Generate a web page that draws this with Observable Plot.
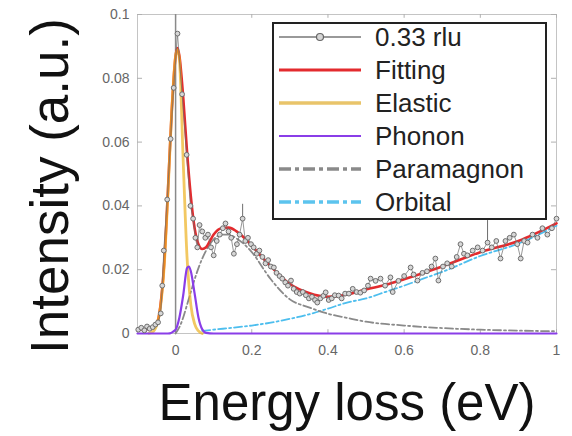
<!DOCTYPE html>
<html><head><meta charset="utf-8">
<script src="https://cdn.jsdelivr.net/npm/d3@7"></script>
<script src="https://cdn.jsdelivr.net/npm/@observablehq/plot@0.6"></script>
<style>
body{margin:0;background:#fff;font-family:"Liberation Sans",Arial,sans-serif}
#wrap{position:relative;width:572px;height:436px;overflow:hidden}
#legend{position:absolute;left:272px;top:22px;width:271px;height:194px;border:2px solid #222;background:#fff}
.row{position:absolute;left:0;height:33px;display:flex;align-items:center;white-space:nowrap}
.row svg{margin-left:5px}
.row span{margin-left:14px;font-size:26px;color:#222;line-height:33px}
</style></head>
<body><div id="wrap"><div id="legend"></div></div>
<script>
// Measured data (0.33 rlu)
const dataX = [-0.098,-0.09,-0.082,-0.075,-0.068,-0.06,-0.053,-0.046,-0.039,-0.035,-0.031,-0.022,-0.013,-0.005,0.005,0.017,0.029,0.039,0.046,0.052,0.057,0.063,0.07,0.078,0.085,0.093,0.1,0.108,0.116,0.124,0.131,0.139,0.146,0.153,0.161,0.168,0.176,0.183,0.19,0.198,0.205,0.213,0.22,0.228,0.236,0.243,0.25,0.258,0.265,0.273,0.28,0.288,0.295,0.303,0.31,0.318,0.326,0.334,0.342,0.35,0.358,0.366,0.372,0.38,0.388,0.394,0.402,0.41,0.418,0.428,0.436,0.445,0.455,0.465,0.475,0.485,0.495,0.505,0.512,0.525,0.538,0.55,0.564,0.57,0.585,0.6,0.617,0.625,0.635,0.648,0.66,0.672,0.682,0.69,0.702,0.713,0.725,0.738,0.748,0.757,0.766,0.78,0.793,0.806,0.819,0.83,0.842,0.853,0.866,0.877,0.888,0.897,0.906,0.915,0.924,0.937,0.95,0.963,0.976,0.988,1.0];
const dataY = [0.0012,0.0018,0.0010,0.0022,0.0015,0.0020,0.0028,0.0035,0.0063,0.015,0.026,0.042,0.061,0.077,0.094,0.075,0.056,0.040,0.036,0.030,0.027,0.034,0.032,0.030,0.031,0.027,0.0245,0.029,0.031,0.033,0.0345,0.032,0.030,0.025,0.028,0.031,0.036,0.029,0.030,0.028,0.027,0.025,0.026,0.024,0.022,0.023,0.021,0.0207,0.019,0.018,0.0172,0.016,0.015,0.0166,0.014,0.013,0.0125,0.013,0.012,0.011,0.0115,0.0105,0.0097,0.011,0.0118,0.0129,0.0105,0.011,0.012,0.0119,0.011,0.0125,0.0125,0.014,0.013,0.0128,0.0135,0.015,0.0172,0.0165,0.0172,0.015,0.0176,0.013,0.0165,0.018,0.0207,0.0185,0.0166,0.019,0.0195,0.021,0.0235,0.0166,0.021,0.022,0.021,0.024,0.028,0.025,0.0245,0.026,0.027,0.026,0.0285,0.027,0.029,0.0235,0.029,0.030,0.031,0.028,0.0235,0.029,0.0285,0.031,0.030,0.033,0.031,0.033,0.036];
const errX = [0.176, 0.819];
const errLo = [0.036, 0.0285];
const errHi = [0.0405, 0.0354];

// Fitting
const fitX = [-0.1,-0.07,-0.05,-0.04,-0.03,-0.02,-0.01,0,0.005,0.01,0.02,0.03,0.04,0.05,0.06,0.07,0.08,0.09,0.1,0.12,0.14,0.16,0.18,0.2,0.25,0.3,0.35,0.4,0.45,0.5,0.55,0.6,0.7,0.8,0.9,1.0];
const fitY = [0.0012,0.0014,0.003,0.0085,0.022,0.045,0.07,0.087,0.0895,0.087,0.074,0.057,0.043,0.033,0.028,0.0265,0.027,0.029,0.031,0.033,0.0332,0.032,0.030,0.0275,0.021,0.0155,0.0127,0.0115,0.0122,0.0138,0.0152,0.017,0.021,0.0255,0.029,0.0345];

// Elastic
const elasticX = [-0.07,-0.06,-0.05,-0.04,-0.03,-0.02,-0.01,0,0.005,0.01,0.02,0.03,0.04,0.05,0.06,0.07];
const elasticY = [0.0001,0.0005,0.0025,0.008,0.021,0.044,0.07,0.087,0.089,0.086,0.054,0.024,0.009,0.003,0.0008,0];

// Phonon
const phononX = [-0.1,-0.02,0,0.01,0.02,0.03,0.035,0.04,0.05,0.06,0.07,0.08,0.1,0.5,1.0];
const phononY = [0,0,0.0012,0.005,0.012,0.0205,0.021,0.0195,0.0125,0.005,0.0013,0.0002,0,0,0];

// Paramagnon
const paraX = [0,0.01,0.02,0.03,0.04,0.05,0.06,0.07,0.08,0.1,0.12,0.14,0.16,0.18,0.2,0.25,0.3,0.35,0.4,0.45,0.5,0.6,0.7,0.8,0.9,1.0];
const paraY = [0,0.002,0.005,0.009,0.013,0.017,0.0205,0.0235,0.026,0.0295,0.031,0.031,0.0298,0.028,0.0255,0.017,0.0107,0.0082,0.0062,0.0049,0.0037,0.0025,0.0017,0.0012,0.0009,0.0007];

// Orbital
const orbX = [0.07,0.1,0.15,0.2,0.25,0.3,0.35,0.4,0.45,0.5,0.55,0.6,0.65,0.7,0.8,0.9,1.0];
const orbY = [0.0008,0.0012,0.0018,0.0025,0.0034,0.0046,0.006,0.0078,0.0097,0.011,0.013,0.015,0.0172,0.0193,0.0243,0.0282,0.0338];

const xTicks = [0,0.2,0.4,0.6,0.8,1];
const xTickLabels = ["0","0.2","0.4","0.6","0.8","1"];
const yTicks = [0,0.02,0.04,0.06,0.08,0.1];
const yTickLabels = ["0","0.02","0.04","0.06","0.08","0.1"];

const legendLabels = ["0.33 rlu","Fitting","Elastic","Phonon","Paramagnon","Orbital"];
const xLabel = "Energy loss (eV)";
const yLabel = "Intensity (a.u.)";

const C = {data:"#6e6e6e", fit:"#e32b2e", elastic:"#EDB120", phonon:"#8a3ee8", para:"#8a8a8a", orb:"#4DBEEE"};

const zip = (xs, ys) => xs.map((x, i) => ({x, y: ys[i]}));
const data = zip(dataX, dataY);
const errs = errX.map((x, i) => ({x, lo: errLo[i], hi: errHi[i]}));
const xDom = [-0.1, 1], yDom = [0, 0.1];
const tx = (xDom[1] - xDom[0]) * 0.012, ty = (yDom[1] - yDom[0]) * 0.012;

const chart = Plot.plot({
  width: 572, height: 436,
  marginLeft: 137, marginRight: 16, marginTop: 14, marginBottom: 103,
  x: {domain: xDom},
  y: {domain: yDom},
  style: {fontFamily: '"Liberation Sans", Arial, sans-serif', fontSize: "14px", background: "#fff", overflow: "visible"},
  marks: [
    Plot.frame({stroke: "#c4c4c4"}),
    // inward MATLAB-style ticks on all four sides
    Plot.ruleX(xTicks, {y1: yDom[0], y2: yDom[0] + ty, stroke: "#b0b0b0"}),
    Plot.ruleX(xTicks, {y1: yDom[1] - ty, y2: yDom[1], stroke: "#b0b0b0"}),
    Plot.ruleY(yTicks, {x1: xDom[0], x2: xDom[0] + tx, stroke: "#b0b0b0"}),
    Plot.ruleY(yTicks, {x1: xDom[1] - tx, x2: xDom[1], stroke: "#b0b0b0"}),
    Plot.axisX({ticks: xTicks, tickFormat: d => xTickLabels[xTicks.indexOf(d)], tickSize: 0, tickPadding: 12, fontSize: 14, color: "#666", label: null}),
    Plot.axisY({ticks: yTicks, tickFormat: d => yTickLabels[yTicks.indexOf(d)], tickSize: 0, tickPadding: 8, fontSize: 14, color: "#666", label: null}),
    Plot.ruleX([0], {stroke: "#8a8a8a", strokeWidth: 1.5}),
    Plot.line(zip(orbX, orbY), {x: "x", y: "y", stroke: C.orb, strokeWidth: 1.8, strokeDasharray: "8,3,2,3", curve: "monotone-x"}),
    Plot.line(zip(paraX, paraY), {x: "x", y: "y", stroke: C.para, strokeWidth: 1.8, strokeDasharray: "8,3,2,3", curve: "monotone-x"}),
    Plot.line(zip(fitX, fitY), {x: "x", y: "y", stroke: C.fit, strokeWidth: 2.6, curve: "monotone-x"}),
    Plot.line(zip(elasticX, elasticY), {x: "x", y: "y", stroke: C.elastic, strokeWidth: 2.8, strokeOpacity: 0.7, curve: "monotone-x"}),
    Plot.line(zip(phononX, phononY), {x: "x", y: "y", stroke: C.phonon, strokeWidth: 2.2, curve: "monotone-x"}),
    Plot.line(data, {x: "x", y: "y", stroke: C.data, strokeWidth: 0.9, strokeOpacity: 0.8}),
    Plot.ruleX(errs, {x: "x", y1: "lo", y2: "hi", stroke: C.data, strokeWidth: 1}),
    Plot.dot(data, {x: "x", y: "y", r: 2.4, stroke: C.data, strokeWidth: 1, fill: "#d6d6d6"}),
    Plot.text([yLabel], {frameAnchor: "left", textAnchor: "middle", rotate: -90, dx: -86, dy: 12, fontSize: 53, fill: "#111", lineAnchor: "middle"}),
    Plot.text([xLabel], {frameAnchor: "bottom", textAnchor: "middle", dy: 70, fontSize: 51, fill: "#111", lineAnchor: "middle"})
  ]
});
const wrap = document.getElementById("wrap");
wrap.insertBefore(chart, wrap.firstChild);

// Legend
const legendStyles = [
  {stroke: "#777", width: 1.5, dash: null, marker: true},
  {stroke: C.fit, width: 3, dash: null},
  {stroke: "#e9c46a", width: 3.5, dash: null},
  {stroke: C.phonon, width: 1.8, dash: null},
  {stroke: "#8a8a8a", width: 3.5, dash: "12,4,4,4"},
  {stroke: "#5cc4ee", width: 3.5, dash: "12,4,4,4"}
];
const legend = document.getElementById("legend");
legendLabels.forEach((label, i) => {
  const s = legendStyles[i];
  const row = document.createElement("div");
  row.className = "row";
  row.style.top = (-3.5 + 33 * i) + "px";
  const ns = "http://www.w3.org/2000/svg";
  const svg = document.createElementNS(ns, "svg");
  svg.setAttribute("width", 82); svg.setAttribute("height", 14);
  const ln = document.createElementNS(ns, "line");
  ln.setAttribute("x1", 0); ln.setAttribute("x2", 82); ln.setAttribute("y1", 7); ln.setAttribute("y2", 7);
  ln.setAttribute("stroke", s.stroke); ln.setAttribute("stroke-width", s.width);
  if (s.dash) ln.setAttribute("stroke-dasharray", s.dash);
  svg.appendChild(ln);
  if (s.marker) {
    const c = document.createElementNS(ns, "circle");
    c.setAttribute("cx", 41); c.setAttribute("cy", 7); c.setAttribute("r", 3.5);
    c.setAttribute("fill", "#d6d6d6"); c.setAttribute("stroke", "#666"); c.setAttribute("stroke-width", 1.2);
    svg.appendChild(c);
  }
  const sp = document.createElement("span");
  sp.textContent = label;
  row.appendChild(svg); row.appendChild(sp);
  legend.appendChild(row);
});
</script>
</body></html>
